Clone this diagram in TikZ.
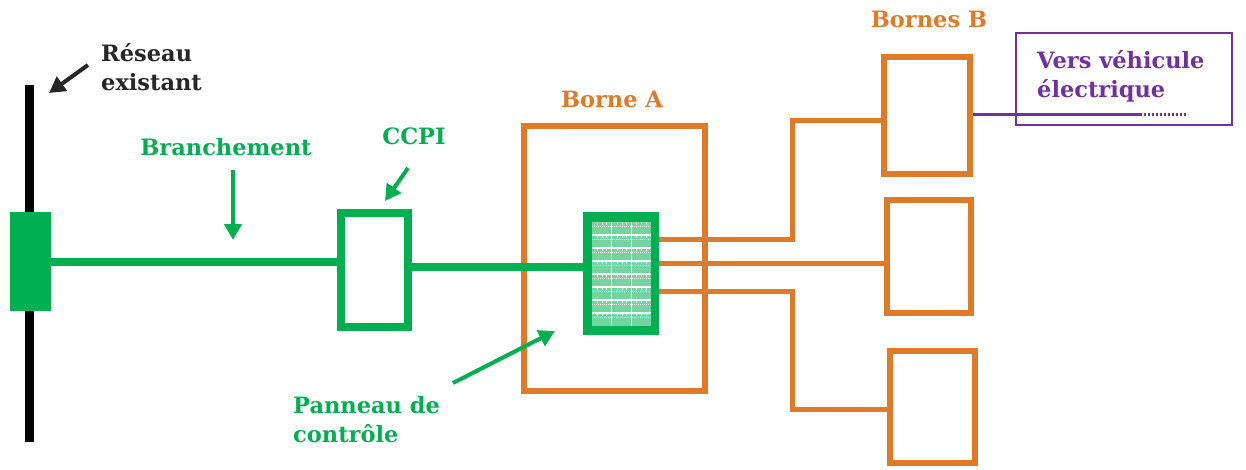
\documentclass[tikz,border=0pt]{standalone}
\usepackage{fontspec}
\setmainfont{DejaVu Serif}
\usetikzlibrary{arrows.meta,calc}
\definecolor{gr}{HTML}{00B050}
\definecolor{og}{HTML}{E07A26}
\definecolor{pu}{HTML}{7030A0}
\definecolor{txt}{HTML}{262626}
\begin{document}
\begin{tikzpicture}[x=1pt,y=-1pt,
  lbl/.style={font=\bfseries\fontsize{22.5}{29}\selectfont, inner sep=0pt, align=left},
  gbox/.style={draw=gr, line width=8pt, fill=white, inner sep=0pt, outer sep=0pt},
  obox/.style={draw=og, line width=6.5pt, inner sep=0pt, outer sep=0pt},
  gline/.style={draw=gr, line width=8pt},
  oline/.style={draw=og, line width=5pt},
  arr/.style={line width=4pt, -{Triangle[length=16pt,width=17pt]}},
]
\useasboundingbox[fill=white] (0,0) rectangle (1246,469);

% pole
\coordinate (pt) at (29,85);
\coordinate (pb) at (29,442);
\draw[line width=9pt, black] (pt) -- (pb);
\node[fill=gr, minimum width=41pt, minimum height=99pt, inner sep=0pt, outer sep=0pt] (blk) at (30.5,261.5) {};

% Reseau label + arrow
\node[lbl, text=txt, anchor=base west] (res) at (101,90) {Réseau\\existant};
\coordinate (ra) at (88,65);
\coordinate (rb) at (49,93);
\draw[arr, txt] (ra) -- (rb);

% CCPI
\node[gbox, minimum width=67pt, minimum height=114pt] (ccpi) at (374.5,270) {};
\draw[gline] (blk.east) -- (blk.east -| ccpi.west);

% Borne A
\node[obox, minimum width=181pt, minimum height=265pt] (ba) at (614.5,258.5) {};

% Bornes B
\node[obox, minimum width=86pt, minimum height=117pt] (b1) at (927,115.5) {};
\node[obox, minimum width=84pt, minimum height=113pt] (b2) at (929,256.5) {};
\node[obox, minimum width=85pt, minimum height=112pt] (b3) at (932.5,407) {};

% Panel
\node[fill=gr, minimum width=76pt, minimum height=123pt, inner sep=0pt, outer sep=0pt] (p) at (621,273.5) {};
\fill[gr!55!white] (592,222) rectangle (651,326);
\foreach \y in {235,248,261,274,287,300,313}{
  \draw[white, line width=1.3pt] (592,\y) -- (651,\y);
}
\foreach \y in {226,239,252,265,278,291,304,317}{
  \draw[white, line width=0.8pt, dash pattern=on 1pt off 1pt] (592,\y) -- (651,\y);
}
\foreach \x in {611.7,631.3}{
  \draw[white, line width=1.3pt] (\x,222) -- (\x,326);
}
\foreach \x in {597,602,606, 617,622,626, 636,641,646}{
  \draw[white, line width=0.6pt, dash pattern=on 3pt off 10pt] (\x,222) -- (\x,326);
}

\draw[gline] ([yshift=3pt]ccpi.east) -- ([yshift=3pt]ccpi.east -| p.west);

% orange connectors
\draw[oline] ([yshift=34.5pt]p.east) -| (792,120) -- (b1.west |- 792,120);
\draw[oline] ([yshift=10.5pt]p.east) -- ([yshift=10.5pt]p.east -| b2.west);
\draw[oline] ([yshift=-17.5pt]p.east) -| (792,409) -- (b3.west |- 792,409);

% Labels
\node[lbl, text=gr, anchor=base] (brl) at (226,155) {Branchement};
\coordinate (bra) at (233,170);
\coordinate (brb) at (233,240);
\draw[arr, gr] (bra) -- (brb);

\node[lbl, text=gr, anchor=base] (ccl) at (414,144) {CCPI};
\coordinate (cca) at (408,168);
\coordinate (ccb) at (385,201);
\draw[arr, gr] (cca) -- (ccb);

\node[lbl, text=og, anchor=base] (bal) at (612,107) {Borne A};
\node[lbl, text=og, anchor=base] (bbl) at (929,27) {Bornes B};

\node[lbl, text=gr, anchor=base west] (pcl) at (293,442) {Panneau de\\contrôle};
\coordinate (pca) at (453,383);
\coordinate (pcb) at (555,331);
\draw[arr, gr] (pca) -- (pcb);

% Vers vehicule
\node[draw=pu, line width=2.5pt, minimum width=216pt, minimum height=92pt, inner sep=0pt] (vv) at (1124,79) {};
\node[lbl, text=pu, anchor=base west] (vvl) at (1037,97) {Vers véhicule\\électrique};
\coordinate (ve) at (1140,114);
\coordinate (vd) at (1188,114);
\draw[pu, line width=3pt] ([yshift=1.5pt,xshift=3pt]b1.east) -- (ve);
\draw[pu, line width=3pt, dash pattern=on 2pt off 2pt] (ve) -- (vd);
\end{tikzpicture}
\end{document}
